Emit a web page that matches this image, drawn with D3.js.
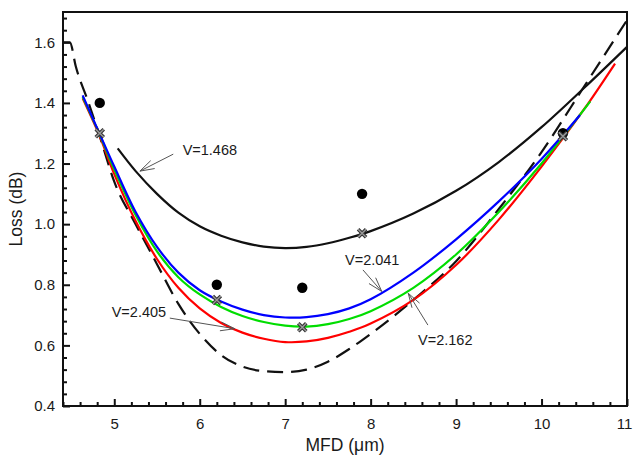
<!DOCTYPE html>
<html>
<head>
<meta charset="utf-8">
<script src="https://cdn.jsdelivr.net/npm/d3@7"></script>
<style>
  body { margin: 0; background: #fff; }
  text { font-family: Arial, "Liberation Sans", sans-serif; fill: #1a1a1a; }
</style>
</head>
<body>
<svg id="chart" width="633" height="458"></svg>
<script>
// Reference curve (dashed)
const dashMfd = [4.4, 4.48, 4.55, 4.7, 4.83, 5.0, 5.25, 5.5, 5.75, 6.0, 6.25, 6.5, 6.75, 7.0, 7.25, 7.5, 7.75, 8.0, 8.5, 9.0, 9.5, 10.0, 10.5, 11.0];
const dashLoss = [1.6, 1.6, 1.52, 1.4, 1.29, 1.14, 1.0, 0.868, 0.737, 0.638, 0.568, 0.53, 0.515, 0.512, 0.52, 0.546, 0.588, 0.638, 0.75, 0.878, 1.05, 1.238, 1.455, 1.673];

// V=1.468 (black)
const v1468Mfd = [5.04, 5.25, 5.5, 5.75, 6.0, 6.25, 6.5, 6.75, 7.0, 7.25, 7.5, 7.75, 8.0, 8.5, 9.0, 9.5, 10.0, 10.5, 11.0];
const v1468Loss = [1.25, 1.175, 1.1, 1.038, 0.993, 0.962, 0.94, 0.926, 0.921, 0.925, 0.937, 0.955, 0.977, 1.035, 1.11, 1.205, 1.32, 1.45, 1.585];

// V=2.041 (blue)
const v2041Mfd = [4.63, 4.83, 5.0, 5.25, 5.5, 5.75, 6.0, 6.25, 6.5, 6.75, 7.0, 7.25, 7.5, 7.75, 8.0, 8.5, 9.0, 9.5, 10.0, 10.45];
const v2041Loss = [1.425, 1.297, 1.19, 1.04, 0.925, 0.84, 0.782, 0.745, 0.718, 0.70, 0.692, 0.693, 0.703, 0.722, 0.752, 0.84, 0.95, 1.075, 1.215, 1.36];

// V=2.162 (green)
const v2162Mfd = [4.63, 4.83, 5.0, 5.25, 5.5, 5.75, 6.0, 6.25, 6.5, 6.75, 7.0, 7.25, 7.5, 7.75, 8.0, 8.5, 9.0, 9.5, 10.0, 10.57];
const v2162Loss = [1.42, 1.295, 1.18, 1.03, 0.91, 0.825, 0.768, 0.727, 0.697, 0.677, 0.665, 0.662, 0.67, 0.687, 0.713, 0.79, 0.9, 1.04, 1.2, 1.405];

// V=2.405 (red)
const v2405Mfd = [4.63, 4.83, 5.0, 5.25, 5.5, 5.75, 6.0, 6.25, 6.5, 6.75, 7.0, 7.25, 7.5, 7.75, 8.0, 8.5, 9.0, 9.5, 10.0, 10.5, 10.86];
const v2405Loss = [1.415, 1.29, 1.165, 1.01, 0.885, 0.79, 0.722, 0.674, 0.642, 0.622, 0.611, 0.613, 0.625, 0.645, 0.672, 0.75, 0.865, 1.015, 1.19, 1.38, 1.53];

// Measured points (filled circles) and calculated points (crosses)
const dotMfd = [4.83, 6.2, 7.2, 7.9, 10.25];
const dotLoss = [1.4, 0.8, 0.79, 1.1, 1.3];
const crossMfd = [4.83, 6.2, 7.2, 7.9, 10.25];
const crossLoss = [1.3, 0.75, 0.66, 0.97, 1.29];

// Axis ticks
const xTicks = [5, 6, 7, 8, 9, 10, 11];
const yTicks = [0.4, 0.6, 0.8, 1.0, 1.2, 1.4, 1.6];

const svg = d3.select("#chart");
const plot = { left: 63, right: 627, top: 12, bottom: 406 };

const x = d3.scaleLinear().domain([4.4, 11]).range([plot.left, plot.right]);
const y = d3.scaleLinear().domain([0.4, 1.7]).range([plot.bottom, plot.top]);

// minor ticks
const xMinor = d3.range(4.4, 11.001, 0.2).filter(v => Math.abs(v - Math.round(v)) > 0.01);
const yMinor = d3.range(0.4, 1.7, 0.04).filter(v => Math.abs(v * 5 - Math.round(v * 5)) > 0.01);

svg.append("g")
  .attr("transform", "translate(0," + plot.bottom + ")")
  .call(d3.axisBottom(x).tickValues(xMinor).tickSize(-4).tickFormat(""))
  .call(g => g.select(".domain").remove())
  .call(g => g.selectAll("line").attr("stroke", "#111").attr("stroke-width", 2));

svg.append("g")
  .attr("transform", "translate(0," + plot.bottom + ")")
  .call(d3.axisBottom(x).tickValues(xTicks).tickSize(-7).tickPadding(12).tickFormat(d3.format("d")))
  .call(g => g.select(".domain").remove())
  .call(g => g.selectAll("line").attr("stroke", "#111").attr("stroke-width", 2))
  .call(g => g.selectAll("text").attr("font-size", 15).attr("fill", "#1a1a1a"))
  .call(g => g.selectAll("text").filter(d => d === 11).attr("dx", -3));

svg.append("g")
  .attr("transform", "translate(" + plot.left + ",0)")
  .call(d3.axisLeft(y).tickValues(yMinor).tickSize(-4).tickFormat(""))
  .call(g => g.select(".domain").remove())
  .call(g => g.selectAll("line").attr("stroke", "#111").attr("stroke-width", 2));

svg.append("g")
  .attr("transform", "translate(" + plot.left + ",0)")
  .call(d3.axisLeft(y).tickValues(yTicks).tickSize(-7).tickPadding(8).tickFormat(d3.format(".1f")))
  .call(g => g.select(".domain").remove())
  .call(g => g.selectAll("line").attr("stroke", "#111").attr("stroke-width", 2))
  .call(g => g.selectAll("text").attr("font-size", 15).attr("fill", "#1a1a1a"));

// frame
svg.append("rect")
  .attr("x", plot.left).attr("y", plot.top)
  .attr("width", plot.right - plot.left).attr("height", plot.bottom - plot.top)
  .attr("fill", "none").attr("stroke", "#111").attr("stroke-width", 2);

// axis titles
svg.append("text")
  .attr("x", 345).attr("y", 451)
  .attr("text-anchor", "middle").attr("font-size", 17.5)
  .text("MFD (\u03bcm)");

svg.append("text")
  .attr("transform", "translate(22," + (plot.top + plot.bottom) / 2 + ") rotate(-90)")
  .attr("text-anchor", "middle").attr("font-size", 17.5)
  .text("Loss (dB)");

// curves: the dashed one keeps its flat start, so it gets a monotone curve
const smooth = d3.line()
  .x(d => x(d[0]))
  .y(d => y(d[1]))
  .curve(d3.curveCatmullRom.alpha(0.5));
const monotone = d3.line()
  .x(d => x(d[0]))
  .y(d => y(d[1]))
  .curve(d3.curveMonotoneX);

const curves = [
  { mfd: dashMfd, loss: dashLoss, color: "#111", dash: "16,8", gen: monotone },
  { mfd: v1468Mfd, loss: v1468Loss, color: "#111", dash: null, gen: smooth },
  { mfd: v2405Mfd, loss: v2405Loss, color: "#ff0000", dash: null, gen: smooth },
  { mfd: v2162Mfd, loss: v2162Loss, color: "#00dd00", dash: null, gen: smooth },
  { mfd: v2041Mfd, loss: v2041Loss, color: "#0000ff", dash: null, gen: smooth }
];

curves.forEach(c => {
  svg.append("path")
    .datum(d3.zip(c.mfd, c.loss))
    .attr("d", c.gen)
    .attr("fill", "none")
    .attr("stroke", c.color)
    .attr("stroke-width", 2.2)
    .attr("stroke-dasharray", c.dash);
});

// filled circles
svg.selectAll(".dot")
  .data(d3.zip(dotMfd, dotLoss))
  .enter()
  .append("circle")
  .attr("class", "dot")
  .attr("cx", d => x(d[0]))
  .attr("cy", d => y(d[1]))
  .attr("r", 5.2)
  .attr("fill", "#000");

// crosses
const crossPath = d => {
  const cx = x(d[0]), cy = y(d[1]), s = 4;
  return `M${cx - s},${cy - s}L${cx + s},${cy + s}M${cx - s},${cy + s}L${cx + s},${cy - s}`;
};
const crosses = d3.zip(crossMfd, crossLoss);
svg.selectAll(".cross-out")
  .data(crosses).enter().append("path")
  .attr("d", crossPath)
  .attr("stroke", "#333").attr("stroke-width", 3.6);
svg.selectAll(".cross-in")
  .data(crosses).enter().append("path")
  .attr("d", crossPath)
  .attr("stroke", "#9a9a9a").attr("stroke-width", 1.4);

// annotations: label position and arrow from (ax, ay) to tip (bx, by), all in data units
const notes = [
  { label: "V=1.468", tx: 5.80, ty: 1.245, ax: 5.69, ay: 1.231, bx: 5.30, by: 1.175 },
  { label: "V=2.041", tx: 7.70, ty: 0.882, ax: 7.91, ay: 0.849, bx: 8.13, by: 0.778 },
  { label: "V=2.162", tx: 8.555, ty: 0.618, ax: 8.67, ay: 0.667, bx: 8.44, by: 0.772 },
  { label: "V=2.405", tx: 4.97, ty: 0.71, ax: 5.65, ay: 0.69, bx: 6.41, by: 0.655 }
];

notes.forEach(n => {
  const x1 = x(n.ax), y1 = y(n.ay), x2 = x(n.bx), y2 = y(n.by);
  const ang = Math.atan2(y2 - y1, x2 - x1);
  const len = 15, spread = 0.3;
  const h1 = [x2 - len * Math.cos(ang - spread), y2 - len * Math.sin(ang - spread)];
  const h2 = [x2 - len * Math.cos(ang + spread), y2 - len * Math.sin(ang + spread)];
  svg.append("path")
    .attr("d", `M${x1},${y1}L${x2},${y2}M${h1[0]},${h1[1]}L${x2},${y2}L${h2[0]},${h2[1]}`)
    .attr("fill", "none")
    .attr("stroke", "#555")
    .attr("stroke-width", 1);
  svg.append("text")
    .attr("x", x(n.tx)).attr("y", y(n.ty))
    .attr("dy", "0.35em")
    .attr("font-size", 14.5)
    .text(n.label);
});
</script>
</body>
</html>
